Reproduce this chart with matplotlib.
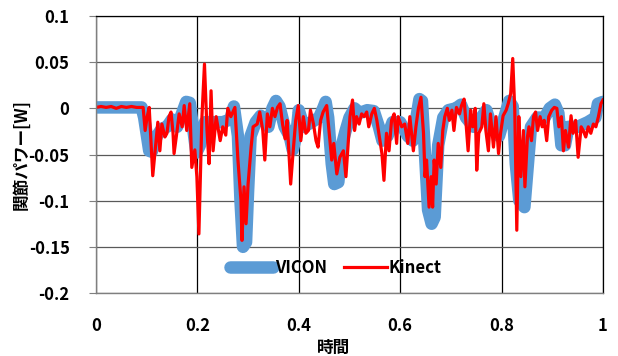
import matplotlib.pyplot as plt
import numpy as np

plt.rcParams['font.family'] = ['Noto Sans CJK JP', 'DejaVu Sans']
plt.rcParams['font.weight'] = 'bold'

# VICON joint power (smooth reference)
vicon_t = [0.000, 0.090, 0.095, 0.105, 0.110, 0.120, 0.130, 0.140, 0.150, 0.160,
           0.170, 0.178, 0.185, 0.190, 0.198, 0.205, 0.215, 0.230, 0.250, 0.265,
           0.272, 0.280, 0.285, 0.290, 0.296, 0.300, 0.305, 0.315, 0.325, 0.340,
           0.348, 0.355, 0.362, 0.372, 0.382, 0.388, 0.395, 0.400, 0.410, 0.425,
           0.440, 0.448, 0.453, 0.458, 0.465, 0.470, 0.478, 0.485, 0.492, 0.500,
           0.510, 0.520, 0.535, 0.548, 0.558, 0.565, 0.575, 0.585, 0.600, 0.615,
           0.625, 0.632, 0.638, 0.643, 0.650, 0.655, 0.662, 0.668, 0.675, 0.685,
           0.695, 0.710, 0.720, 0.730, 0.745, 0.760, 0.770, 0.780, 0.795, 0.808,
           0.815, 0.822, 0.828, 0.835, 0.845, 0.852, 0.858, 0.870, 0.885, 0.895,
           0.905, 0.912, 0.918, 0.925, 0.932, 0.950, 0.970, 0.985, 0.990, 1.000]
vicon_p = [0.001, 0.001, -0.010, -0.046, -0.047, -0.030, -0.022, -0.020, -0.012, -0.020,
           -0.005, 0.007, 0.006, -0.015, -0.048, -0.040, -0.015, -0.015, -0.015, -0.012,
           0.002, -0.030, -0.100, -0.150, -0.145, -0.090, -0.030, -0.015, -0.008, -0.020,
           0.000, 0.008, 0.002, -0.020, -0.030, -0.045, -0.030, -0.002, -0.020, -0.015,
           -0.010, 0.000, 0.007, -0.010, -0.060, -0.082, -0.080, -0.040, -0.025, -0.010,
           0.000, -0.005, -0.002, -0.003, -0.020, -0.035, -0.030, -0.015, -0.015, -0.030,
           -0.035, -0.010, 0.010, 0.008, -0.060, -0.110, -0.125, -0.118, -0.040, -0.010,
           -0.002, 0.000, 0.004, -0.010, -0.020, -0.010, -0.002, -0.020, -0.030, -0.005,
           0.008, 0.002, -0.060, -0.100, -0.107, -0.060, -0.020, -0.010, -0.010, 0.000,
           0.004, -0.005, -0.040, -0.040, -0.020, -0.020, -0.015, -0.010, 0.005, 0.007]

# Kinect joint power (noisy estimate)
kinect_t = [0.000, 0.010, 0.020, 0.030, 0.040, 0.050, 0.060, 0.070, 0.080, 0.093,
            0.097, 0.101, 0.105, 0.108, 0.112, 0.118, 0.122, 0.126, 0.130, 0.136,
            0.140, 0.144, 0.148, 0.152, 0.154, 0.160, 0.164, 0.170, 0.174, 0.179,
            0.185, 0.189, 0.195, 0.199, 0.203, 0.209, 0.214, 0.219, 0.223, 0.227,
            0.231, 0.237, 0.241, 0.245, 0.250, 0.256, 0.260, 0.266, 0.274, 0.280,
            0.286, 0.288, 0.292, 0.296, 0.300, 0.306, 0.310, 0.318, 0.323, 0.329,
            0.333, 0.338, 0.343, 0.348, 0.353, 0.358, 0.363, 0.368, 0.373, 0.377,
            0.384, 0.389, 0.394, 0.399, 0.404, 0.409, 0.414, 0.419, 0.423, 0.429,
            0.434, 0.438, 0.443, 0.448, 0.455, 0.460, 0.465, 0.469, 0.475, 0.481,
            0.488, 0.493, 0.501, 0.506, 0.510, 0.514, 0.519, 0.524, 0.529, 0.534,
            0.538, 0.544, 0.549, 0.554, 0.559, 0.564, 0.568, 0.573, 0.578, 0.583,
            0.588, 0.593, 0.596, 0.603, 0.609, 0.615, 0.619, 0.626, 0.631, 0.636,
            0.641, 0.646, 0.649, 0.652, 0.657, 0.661, 0.664, 0.667, 0.671, 0.675,
            0.680, 0.684, 0.688, 0.693, 0.697, 0.702, 0.706, 0.711, 0.717, 0.721,
            0.726, 0.730, 0.734, 0.739, 0.743, 0.748, 0.751, 0.755, 0.761, 0.765,
            0.769, 0.774, 0.778, 0.784, 0.789, 0.794, 0.798, 0.803, 0.809, 0.813,
            0.818, 0.822, 0.826, 0.830, 0.834, 0.838, 0.843, 0.846, 0.851, 0.854,
            0.859, 0.863, 0.867, 0.871, 0.876, 0.880, 0.884, 0.889, 0.893, 0.899,
            0.904, 0.909, 0.913, 0.918, 0.922, 0.926, 0.932, 0.937, 0.941, 0.946,
            0.951, 0.957, 0.961, 0.966, 0.971, 0.976, 0.981, 0.986, 0.991, 0.996,
            1.000]
kinect_p = [0.001, 0.002, 0.001, 0.002, 0.000, 0.002, 0.001, 0.002, 0.001, 0.001,
            -0.024, -0.009, 0.001, -0.031, -0.073, -0.038, -0.015, -0.046, -0.017, -0.031,
            -0.027, -0.009, -0.004, -0.027, -0.049, -0.024, -0.006, -0.020, 0.003, -0.024,
            0.005, -0.064, -0.045, -0.074, -0.136, -0.009, 0.048, -0.024, -0.060, 0.019,
            -0.046, -0.009, -0.022, -0.035, -0.020, -0.029, 0.000, -0.009, 0.001, -0.056,
            -0.100, -0.143, -0.085, -0.125, -0.082, -0.042, -0.020, -0.017, -0.004, -0.024,
            -0.056, -0.006, -0.020, 0.000, -0.009, 0.001, 0.005, -0.017, -0.033, -0.013,
            -0.082, -0.046, -0.013, 0.003, -0.035, -0.009, -0.027, -0.024, -0.002, -0.017,
            -0.035, -0.042, -0.013, -0.004, 0.003, -0.027, -0.056, -0.038, -0.071, -0.053,
            -0.046, -0.074, -0.009, 0.009, -0.024, -0.009, -0.017, -0.006, -0.009, -0.004,
            -0.020, -0.006, 0.000, -0.013, -0.031, -0.049, -0.078, -0.027, -0.046, -0.013,
            -0.006, -0.038, -0.009, -0.020, -0.017, -0.038, -0.009, -0.046, -0.020, 0.000,
            0.012, -0.027, -0.074, -0.056, -0.107, -0.074, -0.107, -0.056, -0.082, -0.038,
            -0.064, -0.024, -0.009, 0.000, -0.013, -0.002, -0.024, 0.001, -0.006, 0.003,
            0.010, -0.017, -0.046, -0.002, -0.020, 0.000, -0.067, -0.027, -0.020, 0.005,
            -0.024, -0.046, -0.006, -0.042, -0.009, -0.049, -0.027, -0.008, -0.002, 0.005,
            0.016, 0.054, -0.002, -0.132, -0.009, -0.074, -0.024, -0.085, -0.031, -0.020,
            -0.035, -0.009, -0.004, -0.024, -0.009, -0.020, -0.013, -0.035, -0.009, -0.002,
            0.001, 0.000, -0.020, -0.009, -0.046, -0.024, -0.042, -0.008, -0.027, -0.013,
            -0.053, -0.020, -0.024, -0.031, -0.020, -0.027, -0.017, -0.020, -0.009, 0.005,
            0.009]

fig = plt.figure(figsize=(6.18, 3.56), dpi=100)
ax = fig.add_axes([0.1553, 0.177, 0.8204, 0.778])

ax.plot(vicon_t, vicon_p, color='#5B9BD5', lw=9, solid_capstyle='round',
        solid_joinstyle='round', label='VICON')
ax.plot(kinect_t, kinect_p, color='#FF0000', lw=2.3, label='Kinect')

ax.set_xlim(0, 1)
ax.set_ylim(-0.2, 0.1)
ax.set_xticks(np.arange(0, 1.01, 0.2))
ax.set_xticklabels(['0', '0.2', '0.4', '0.6', '0.8', '1'])
ax.set_yticks(np.arange(-0.2, 0.101, 0.05))
ax.set_yticklabels(['-0.2', '-0.15', '-0.1', '-0.05', '0', '0.05', '0.1'])

ax.yaxis.grid(True, color='#595959', lw=0.9)
ax.xaxis.grid(True, color='black', lw=0.9)
ax.set_axisbelow(True)
for side in ['top', 'right']:
    ax.spines[side].set_color('black')
    ax.spines[side].set_linewidth(0.9)
for side in ['left', 'bottom']:
    ax.spines[side].set_color('#7f7f7f')
    ax.spines[side].set_linewidth(1.0)

ax.tick_params(axis='x', length=0, pad=17, labelsize=12)
ax.tick_params(axis='y', which='major', length=5, color='#7f7f7f', pad=14, labelsize=12)
for lbl in ax.get_xticklabels() + ax.get_yticklabels():
    lbl.set_fontweight('bold')

ax.set_xlabel('時間', fontsize=12, fontweight='bold')
ax.xaxis.set_label_coords(0.468, -0.165)
ax.set_ylabel('関節パワー[W]', fontsize=12, fontweight='bold')
ax.yaxis.set_label_coords(-0.13, 0.5)

leg = ax.legend(loc='center', bbox_to_anchor=(0.473, 0.09), ncol=2, frameon=False,
                handlelength=2.6, handletextpad=0.1, columnspacing=1.0,
                prop={'size': 12, 'weight': 'bold'})

fig.savefig('out.png', dpi=100)
